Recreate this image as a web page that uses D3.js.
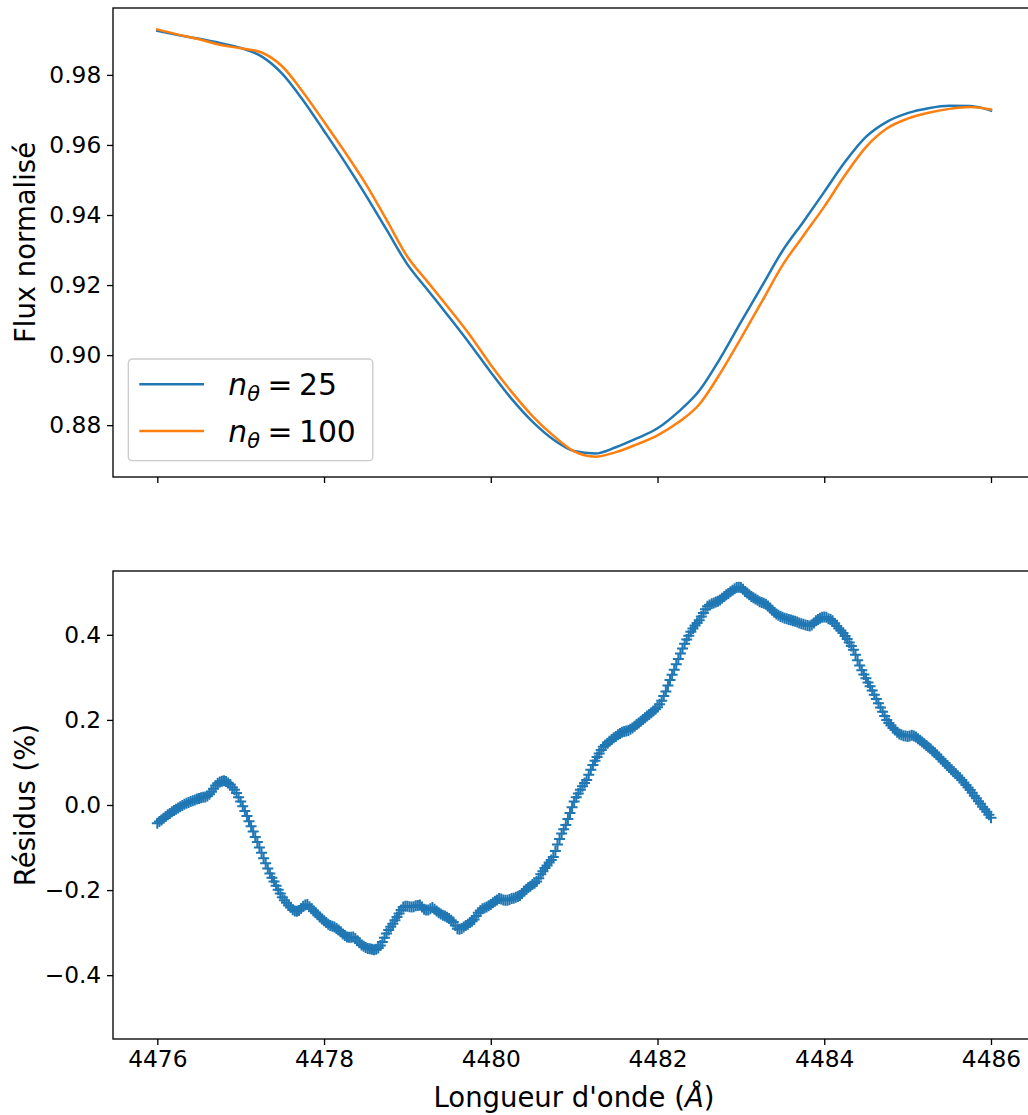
<!DOCTYPE html>
<html>
<head>
<meta charset="utf-8">
<script src="https://cdn.jsdelivr.net/npm/d3@7"></script>
<style>
  html, body { margin: 0; padding: 0; background: #ffffff; }
  svg { display: block; font-family: "DejaVu Sans", sans-serif; }
</style>
</head>
<body>
<svg id="chart" width="1028" height="1115"></svg>
<script>
// Synthetic line profile around 4481 Å for two angular resolutions.
const fluxWavelengths = [
  4476.00, 4476.25, 4476.50, 4476.75, 4477.00, 4477.25, 4477.50, 4477.75,
  4478.00, 4478.25, 4478.50, 4478.75, 4479.00, 4479.25, 4479.50, 4479.75,
  4480.00, 4480.25, 4480.50, 4480.75, 4481.00, 4481.25, 4481.50, 4481.75,
  4482.00, 4482.25, 4482.50, 4482.75, 4483.00, 4483.25, 4483.50, 4483.75,
  4484.00, 4484.25, 4484.50, 4484.75, 4485.00, 4485.25, 4485.50, 4485.75,
  4486.00
];
const fluxN25 = [
  0.9926, 0.9914, 0.9903, 0.9891, 0.9877, 0.9853, 0.9803, 0.9727,
  0.9640, 0.9551, 0.9457, 0.9358, 0.9259, 0.9184, 0.9109, 0.9032,
  0.8951, 0.8875, 0.8810, 0.8759, 0.8726, 0.8719, 0.8737, 0.8762,
  0.8791, 0.8838, 0.8898, 0.8990, 0.9094, 0.9196, 0.9298, 0.9381,
  0.9466, 0.9552, 0.9623, 0.9666, 0.9691, 0.9705, 0.9712, 0.9711,
  0.9698
];
const fluxN100 = [
  0.9930, 0.9915, 0.9902, 0.9886, 0.9876, 0.9864, 0.9824, 0.9750,
  0.9666, 0.9580, 0.9489, 0.9386, 0.9281, 0.9207, 0.9133, 0.9057,
  0.8972, 0.8895, 0.8826, 0.8770, 0.8725, 0.8710, 0.8723, 0.8745,
  0.8771, 0.8808, 0.8859, 0.8947, 0.9048, 0.9152, 0.9257, 0.9341,
  0.9424, 0.9514, 0.9594, 0.9647, 0.9675, 0.9692, 0.9703, 0.9708,
  0.9701
];

// Relative difference between the two profiles, in percent,
// sampled every 0.025 Å from 4476 Å (one row = 0.25 Å).
const residualStart = 4476.0;
const residualStep = 0.025;
const residuals = [
  -0.043, -0.039, -0.035, -0.031, -0.027, -0.023, -0.020, -0.016, -0.013, -0.010,
  -0.007, -0.004, -0.001,  0.002,  0.004,  0.006,  0.008,  0.010,  0.012,  0.014,
   0.015,  0.017,  0.018,  0.019,  0.021,  0.025,  0.031,  0.038,  0.046,  0.051,
   0.054,  0.056,  0.057,  0.055,  0.052,  0.048,  0.042,  0.036,  0.028,  0.018,
   0.008, -0.003, -0.014, -0.026, -0.038, -0.050, -0.062, -0.075, -0.087, -0.100,
  -0.112, -0.125, -0.137, -0.149, -0.161, -0.171, -0.180, -0.190, -0.199, -0.208,
  -0.217, -0.224, -0.230, -0.236, -0.241, -0.246, -0.249, -0.250, -0.248, -0.243,
  -0.238, -0.235, -0.234, -0.239, -0.244, -0.249, -0.253, -0.258, -0.263, -0.268,
  -0.272, -0.276, -0.280, -0.283, -0.285, -0.287, -0.290, -0.294, -0.298, -0.303,
  -0.307, -0.310, -0.311, -0.311, -0.310, -0.314, -0.319, -0.324, -0.329, -0.332,
  -0.335, -0.337, -0.338, -0.339, -0.340, -0.339, -0.336, -0.330, -0.322, -0.312,
  -0.302, -0.294, -0.286, -0.279, -0.271, -0.263, -0.255, -0.247, -0.240, -0.238,
  -0.238, -0.239, -0.240, -0.239, -0.237, -0.236, -0.235, -0.240, -0.245, -0.247,
  -0.247, -0.244, -0.241, -0.245, -0.249, -0.253, -0.256, -0.259, -0.261, -0.264,
  -0.267, -0.271, -0.275, -0.283, -0.291, -0.292, -0.290, -0.287, -0.283, -0.280,
  -0.276, -0.273, -0.269, -0.261, -0.253, -0.248, -0.244, -0.242, -0.240, -0.237,
  -0.234, -0.230, -0.226, -0.223, -0.220, -0.221, -0.223, -0.224, -0.224, -0.222,
  -0.220, -0.219, -0.217, -0.215, -0.213, -0.208, -0.202, -0.198, -0.194, -0.191,
  -0.187, -0.184, -0.180, -0.172, -0.163, -0.156, -0.148, -0.142, -0.135, -0.129,
  -0.122, -0.108, -0.093, -0.080, -0.067, -0.057, -0.047, -0.033, -0.019, -0.005,
   0.008,  0.018,  0.027,  0.036,  0.044,  0.052,  0.059,  0.071,  0.083,  0.094,
   0.104,  0.113,  0.121,  0.129,  0.137,  0.141,  0.145,  0.150,  0.154,  0.158,
   0.161,  0.165,  0.168,  0.171,  0.173,  0.174,  0.175,  0.178,  0.181,  0.185,
   0.189,  0.193,  0.197,  0.201,  0.205,  0.209,  0.213,  0.217,  0.221,  0.225,
   0.230,  0.237,  0.245,  0.256,  0.267,  0.281,  0.294,  0.306,  0.318,  0.331,
   0.343,  0.356,  0.368,  0.379,  0.389,  0.398,  0.407,  0.415,  0.422,  0.428,
   0.434,  0.443,  0.451,  0.460,  0.467,  0.470,  0.473,  0.475,  0.477,  0.479,
   0.482,  0.486,  0.490,  0.494,  0.497,  0.501,  0.505,  0.508,  0.511,  0.512,
   0.511,  0.507,  0.502,  0.498,  0.494,  0.490,  0.487,  0.484,  0.481,  0.478,
   0.476,  0.474,  0.472,  0.468,  0.463,  0.458,  0.453,  0.449,  0.446,  0.443,
   0.441,  0.439,  0.438,  0.436,  0.435,  0.433,  0.432,  0.430,  0.428,  0.426,
   0.425,  0.423,  0.422,  0.421,  0.423,  0.428,  0.433,  0.436,  0.439,  0.441,
   0.442,  0.441,  0.438,  0.436,  0.433,  0.427,  0.421,  0.415,  0.410,  0.404,
   0.397,  0.390,  0.382,  0.374,  0.365,  0.353,  0.340,  0.328,  0.317,  0.307,
   0.298,  0.288,  0.279,  0.269,  0.259,  0.249,  0.239,  0.229,  0.219,  0.209,
   0.200,  0.193,  0.187,  0.181,  0.176,  0.171,  0.167,  0.165,  0.163,  0.162,
   0.161,  0.162,  0.164,  0.162,  0.160,  0.156,  0.152,  0.148,  0.144,  0.140,
   0.136,  0.132,  0.127,  0.123,  0.118,  0.113,  0.108,  0.103,  0.098,  0.093,
   0.088,  0.083,  0.078,  0.074,  0.069,  0.064,  0.059,  0.053,  0.047,  0.041,
   0.035,  0.029,  0.022,  0.016,  0.009,  0.003, -0.004, -0.010, -0.016, -0.023,
  -0.030
];
const residualWavelengths = residuals.map((_, i) => residualStart + i * residualStep);

const xTicks = [4476, 4478, 4480, 4482, 4484, 4486];
const fluxTicks = [0.88, 0.90, 0.92, 0.94, 0.96, 0.98];
const residualTicks = [-0.4, -0.2, 0.0, 0.2, 0.4];

const seriesNames = ["25", "100"];
const seriesColors = ["#1f77b4", "#ff7f0e"];

const svg = d3.select("#chart");
const tickFont = 23.3;
const labelFont = 27.5;

const x = d3.scaleLinear().domain([4475.4685, 4486.5315]).range([113, 1035.3]);
const yFlux = d3.scaleLinear().domain([0.8652, 0.9991]).range([477, 8]);
const yRes = d3.scaleLinear().domain([-0.55, 0.55]).range([1039, 571]);

function styleAxis(g, showLabels) {
  g.select(".domain").remove();
  g.selectAll(".tick line").attr("stroke", "#000").attr("stroke-width", 1.33);
  g.selectAll(".tick text")
    .attr("fill", "#000")
    .style("font-size", tickFont + "px")
    .style("font-family", "DejaVu Sans, sans-serif");
  if (!showLabels) g.selectAll(".tick text").remove();
}

function frame(top, bottom) {
  svg.append("rect")
    .attr("x", 113).attr("y", top)
    .attr("width", 1035.3 - 113).attr("height", bottom - top)
    .attr("fill", "none").attr("stroke", "#000").attr("stroke-width", 1.33);
}

// ---------- Top panel: normalised flux ----------
svg.append("defs").append("clipPath").attr("id", "clipTop")
  .append("rect").attr("x", 113).attr("y", 8).attr("width", 922).attr("height", 469);

const fluxLine = d3.line()
  .x(d => x(d[0]))
  .y(d => yFlux(d[1]))
  .curve(d3.curveMonotoneX);

const fluxSeries = [fluxN25, fluxN100];
const topG = svg.append("g").attr("clip-path", "url(#clipTop)");
fluxSeries.forEach((vals, k) => {
  topG.append("path")
    .datum(fluxWavelengths.map((w, i) => [w, vals[i]]))
    .attr("d", fluxLine)
    .attr("fill", "none")
    .attr("stroke", seriesColors[k])
    .attr("stroke-width", 2.5)
    .attr("stroke-linejoin", "round")
    .attr("stroke-linecap", "square");
});

svg.append("g")
  .attr("transform", "translate(113,0)")
  .call(d3.axisLeft(yFlux).tickValues(fluxTicks).tickFormat(d3.format(".2f")).tickSize(6).tickPadding(5.8))
  .call(g => styleAxis(g, true));
svg.append("g")
  .attr("transform", "translate(0,477)")
  .call(d3.axisBottom(x).tickValues(xTicks).tickSize(6))
  .call(g => styleAxis(g, false));
frame(8, 477);

svg.append("text")
  .attr("transform", "translate(35,242.5) rotate(-90)")
  .attr("text-anchor", "middle")
  .style("font-size", labelFont + "px")
  .text("Flux normalisé");

// Legend
const legend = svg.append("g").attr("transform", "translate(128.3,359)");
legend.append("rect")
  .attr("width", 244.5).attr("height", 101.7)
  .attr("rx", 4).attr("ry", 4)
  .attr("fill", "#ffffff").attr("fill-opacity", 0.8)
  .attr("stroke", "#cccccc").attr("stroke-width", 1.33);
const legendFont = 29.8;
seriesNames.forEach((name, k) => {
  const cy = 25.3 + k * 46.7;
  legend.append("line")
    .attr("x1", 11).attr("x2", 75.7)
    .attr("y1", cy).attr("y2", cy)
    .attr("stroke", seriesColors[k]).attr("stroke-width", 2.5);
  const t = legend.append("text")
    .attr("x", 100).attr("y", cy + 10.7)
    .style("font-size", legendFont + "px");
  t.append("tspan").style("font-style", "italic").text("n");
  t.append("tspan").style("font-style", "italic").style("font-size", (legendFont * 0.7) + "px")
    .attr("dy", 6).text("θ");
  t.append("tspan").attr("dy", -6).attr("dx", 7.5).text("=");
  t.append("tspan").attr("dx", 6.5).text(name);
});

// ---------- Bottom panel: residuals ----------
svg.append("defs").append("clipPath").attr("id", "clipBottom")
  .append("rect").attr("x", 113).attr("y", 571).attr("width", 922).attr("height", 468);

const botG = svg.append("g").attr("clip-path", "url(#clipBottom)");
botG.selectAll("path.plus")
  .data(residualWavelengths.map((w, i) => [w, residuals[i]]))
  .join("path")
  .attr("class", "plus")
  .attr("transform", d => `translate(${x(d[0])},${yRes(d[1])})`)
  .attr("d", "M-5.5,0H5.5M0,-5.5V5.5")
  .attr("fill", "none")
  .attr("stroke", seriesColors[0])
  .attr("stroke-width", 2);

svg.append("g")
  .attr("transform", "translate(113,0)")
  .call(d3.axisLeft(yRes).tickValues(residualTicks)
    .tickFormat(d => d3.format(".1f")(d).replace("-", "\u2212")).tickSize(6).tickPadding(5.8))
  .call(g => styleAxis(g, true));
svg.append("g")
  .attr("transform", "translate(0,1039)")
  .call(d3.axisBottom(x).tickValues(xTicks).tickFormat(d3.format("d")).tickSize(6).tickPadding(5.8))
  .call(g => styleAxis(g, true));
frame(571, 1039);

svg.append("text")
  .attr("transform", "translate(35,805) rotate(-90)")
  .attr("text-anchor", "middle")
  .style("font-size", labelFont + "px")
  .text("Résidus (%)");

const xLabel = svg.append("text")
  .attr("x", 574).attr("y", 1106.5)
  .attr("text-anchor", "middle")
  .style("font-size", labelFont + "px");
xLabel.append("tspan").text("Longueur d'onde (");
xLabel.append("tspan").style("font-style", "italic").text("Å");
xLabel.append("tspan").text(")");
</script>
</body>
</html>
